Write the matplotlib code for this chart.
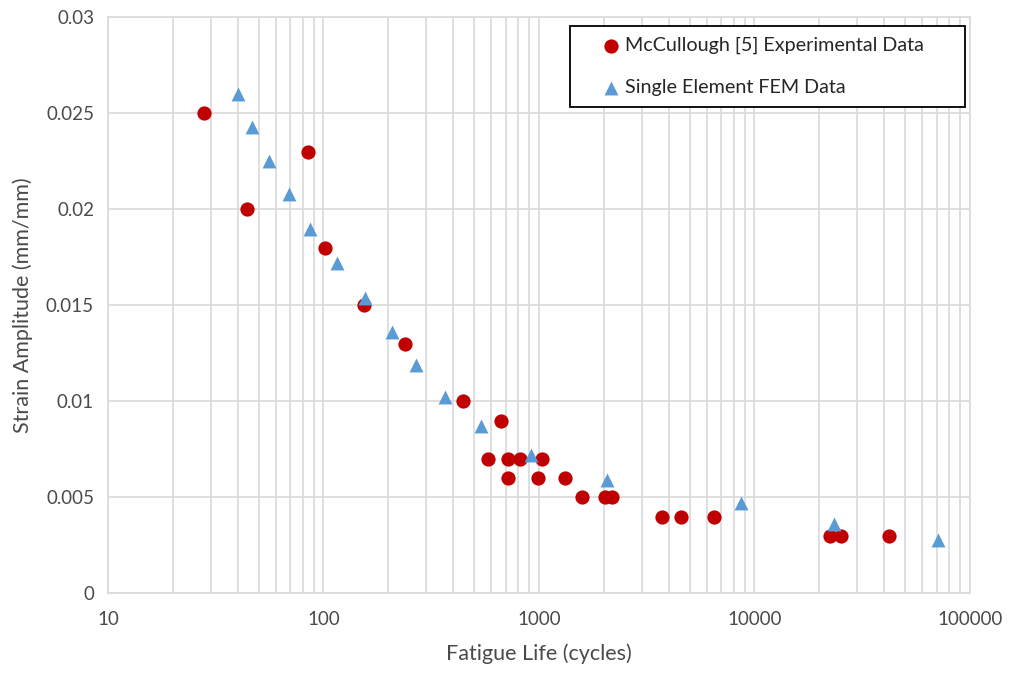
import matplotlib
matplotlib.use("Agg")
import matplotlib.pyplot as plt
from matplotlib.ticker import FixedLocator, FuncFormatter, LogLocator, NullFormatter

# McCullough [5] experimental fatigue data
exp_life = [28, 85, 44, 102, 155, 239, 443, 667, 582, 721, 813, 1030, 720, 989, 1320,
            1590, 2025, 2175, 3730, 4560, 6500, 22400, 25100, 42300]
exp_strain = [0.025, 0.023, 0.020, 0.018, 0.015, 0.013, 0.010, 0.009, 0.007, 0.007, 0.007,
              0.007, 0.006, 0.006, 0.006, 0.005, 0.005, 0.005, 0.004, 0.004, 0.004,
              0.003, 0.003, 0.003]

# Single element FEM predictions
fem_life = [40, 46.6, 56, 69, 87, 115, 156, 208, 270, 368, 540, 918, 2060, 8630, 23450, 70800]
fem_strain = [0.0260, 0.0243, 0.0225, 0.0208, 0.0190, 0.0172, 0.0154, 0.0136, 0.0119,
              0.0102, 0.0087, 0.0072, 0.0059, 0.0047, 0.0036, 0.0028]

y_ticks = [0, 0.005, 0.01, 0.015, 0.02, 0.025, 0.03]
x_ticks = [10, 100, 1000, 10000, 100000]

plt.rcParams['font.family'] = ['Lato', 'DejaVu Sans']

fig = plt.figure(figsize=(10.11, 6.74), dpi=100)
ax = fig.add_axes([0.1068, 0.1197, 0.8526, 0.8546])

grid_c = '#d9d9d9'
text_c = '#4a4a4a'

ax.scatter(exp_life, exp_strain, s=105, marker='o', color='#C00000', linewidths=0,
           zorder=3, label='McCullough [5] Experimental Data')
ax.scatter(fem_life, fem_strain, s=100, marker='^', color='#5B9BD5', linewidths=0,
           zorder=4, label='Single Element FEM Data')

ax.set_xscale('log')
ax.set_xlim(10, 100000)
ax.set_ylim(0, 0.03)

ax.xaxis.set_major_locator(FixedLocator(x_ticks))
ax.xaxis.set_minor_locator(LogLocator(base=10, subs=range(2, 10), numticks=20))
ax.xaxis.set_minor_formatter(NullFormatter())
ax.xaxis.set_major_formatter(FuncFormatter(lambda v, p: f"{int(round(v))}"))
ax.yaxis.set_major_locator(FixedLocator(y_ticks))
ax.yaxis.set_major_formatter(FuncFormatter(lambda v, p: '0' if v == 0 else f"{v:g}"))

ax.grid(True, which='major', axis='both', color=grid_c, linewidth=1.2)
ax.grid(True, which='minor', axis='x', color=grid_c, linewidth=1.2)
ax.set_axisbelow(True)

for s in ax.spines.values():
    s.set_color(grid_c)
    s.set_linewidth(1.2)

ax.tick_params(axis='both', which='both', length=0, labelsize=13.5, colors=text_c)
ax.tick_params(axis='x', pad=13)
ax.tick_params(axis='y', pad=10)

ax.set_xlabel('Fatigue Life (cycles)', fontsize=15.5, color=text_c, labelpad=11)
ax.set_ylabel('Strain Amplitude (mm/mm)', fontsize=15.5, color=text_c, labelpad=9)

leg = ax.legend(loc='upper left', bbox_to_anchor=(0.536, 0.8425, 0.458, 0.1425),
                mode='expand', fontsize=14.2, frameon=True, fancybox=False,
                edgecolor='black', framealpha=1, handletextpad=-0.85,
                handlelength=3.1, labelspacing=1.25, borderpad=0.55, borderaxespad=0,
                markerscale=1.0)
leg.get_frame().set_linewidth(1.3)
for t in leg.get_texts():
    t.set_color('#262626')

fig.savefig('out.png', dpi=100)
